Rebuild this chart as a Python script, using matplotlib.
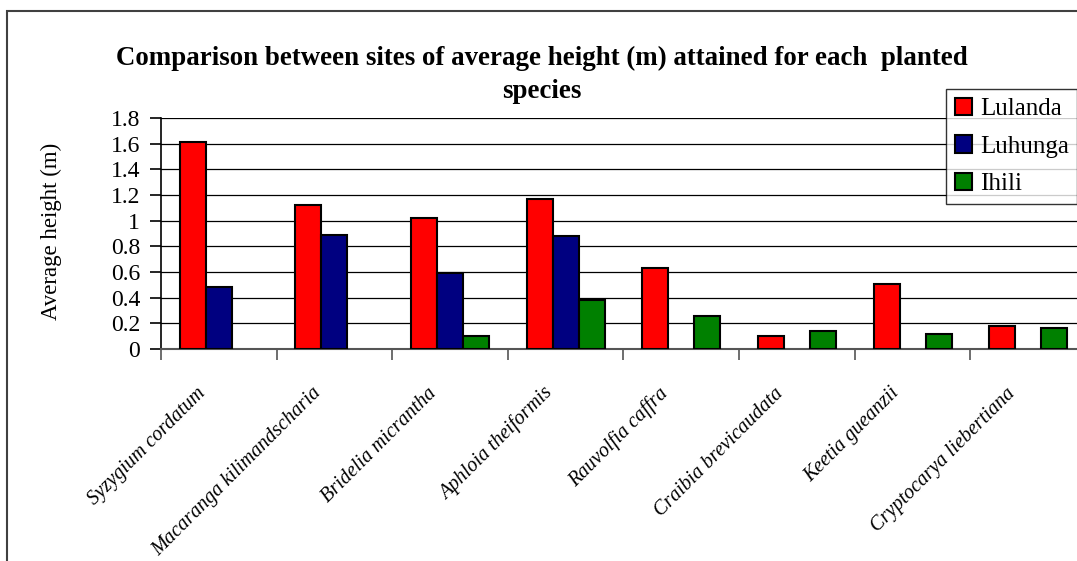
import numpy as np
import matplotlib.pyplot as plt
from matplotlib.patches import Rectangle
from matplotlib.transforms import ScaledTranslation

plt.rcParams['font.family'] = ['Liberation Serif', 'DejaVu Serif']

# species and average heights (m) per site
species = ['Syzygium cordatum', 'Macaranga kilimandscharia', 'Bridelia micrantha',
           'Aphloia theiformis', 'Rauvolfia caffra', 'Craibia brevicaudata',
           'Keetia gueanzii', 'Cryptocarya liebertiana']
lulanda = [1.61, 1.12, 1.02, 1.17, 0.63, 0.10, 0.51, 0.18]
luhunga = [0.48, 0.89, 0.59, 0.88, np.nan, np.nan, np.nan, np.nan]
ihili = [np.nan, np.nan, 0.10, 0.38, 0.26, 0.14, 0.12, 0.16]

sites = ['Lulanda', 'Luhunga', 'Ihili']
colors = ['#FF0000', '#000080', '#008000']
yticks = [0, 0.2, 0.4, 0.6, 0.8, 1, 1.2, 1.4, 1.6, 1.8]
ytick_labels = ['0', '0.2', '0.4', '0.6', '0.8', '1', '1.2', '1.4', '1.6', '1.8']

W, H = 1077, 561
fig = plt.figure(figsize=(W / 100, H / 100), dpi=100)
ax = fig.add_axes([161 / W, 212 / H, 925 / W, 231 / H])

x = np.arange(len(species))
bw = 0.225
for i, (vals, c, name) in enumerate(zip([lulanda, luhunga, ihili], colors, sites)):
    ax.bar(x + (i - 1) * bw, vals, bw, color=c, edgecolor='black', linewidth=1.5,
           label=name, zorder=3)

ax.set_xlim(-0.5, len(species) - 0.5)
ax.set_ylim(0, 1.8)
ax.set_yticks(yticks)
ax.set_yticklabels(ytick_labels, fontsize=17)
ax.yaxis.grid(True, color='black', linewidth=0.9)
ax.set_axisbelow(True)

# category boundaries get the tick marks, labels sit at the centres
ax.set_xticks(np.arange(-0.5, len(species), 1.0))
ax.set_xticklabels([])
ax.set_xticks(x, minor=True)
ax.set_xticklabels(species, minor=True, rotation=45, ha='right', va='center',
                   rotation_mode='anchor', fontsize=14.5, style='italic')
ax.tick_params(axis='x', which='minor', length=0, pad=30)
ax.tick_params(axis='x', which='major', length=8, color='#555555', width=1.2)
ax.tick_params(axis='y', length=8, width=1.2, pad=7)
shift = ScaledTranslation(-0.16, 0, fig.dpi_scale_trans)
for lab in ax.get_xticklabels(minor=True):
    lab.set_transform(lab.get_transform() + shift)

for s in ['top', 'right']:
    ax.spines[s].set_visible(False)
ax.spines['left'].set_linewidth(1.2)
ax.spines['bottom'].set_color('#555555')
ax.spines['bottom'].set_linewidth(1.5)

ax.set_ylabel('Average height (m)', fontsize=16.5)
ax.yaxis.set_label_coords(-0.118, 0.51)
ax.yaxis.label.set_verticalalignment('center')

fig.text(542 / W, 1 - 75 / H,
         'Comparison between sites of average height (m) attained for each  planted\nspecies',
         ha='center', va='center', fontsize=19.4, fontweight='bold', linespacing=1.45)

leg = fig.legend(loc='upper left', bbox_to_anchor=(946 / W, 1 - 89 / H), borderaxespad=0,
                 fontsize=18, fancybox=False, frameon=True, edgecolor='black',
                 handlelength=0.7, handleheight=0.7, handletextpad=0.3,
                 labelspacing=0.6, borderpad=0.35)
leg.get_frame().set_linewidth(1.0)

# outer chart-area border (cut off at right and bottom in the original)
fig.patches.append(Rectangle((7 / W, -0.1), 1.2, 1.1 - 11 / H, transform=fig.transFigure,
                             fill=False, edgecolor='#404040', linewidth=1.5))

fig.savefig('out.png', dpi=100)
